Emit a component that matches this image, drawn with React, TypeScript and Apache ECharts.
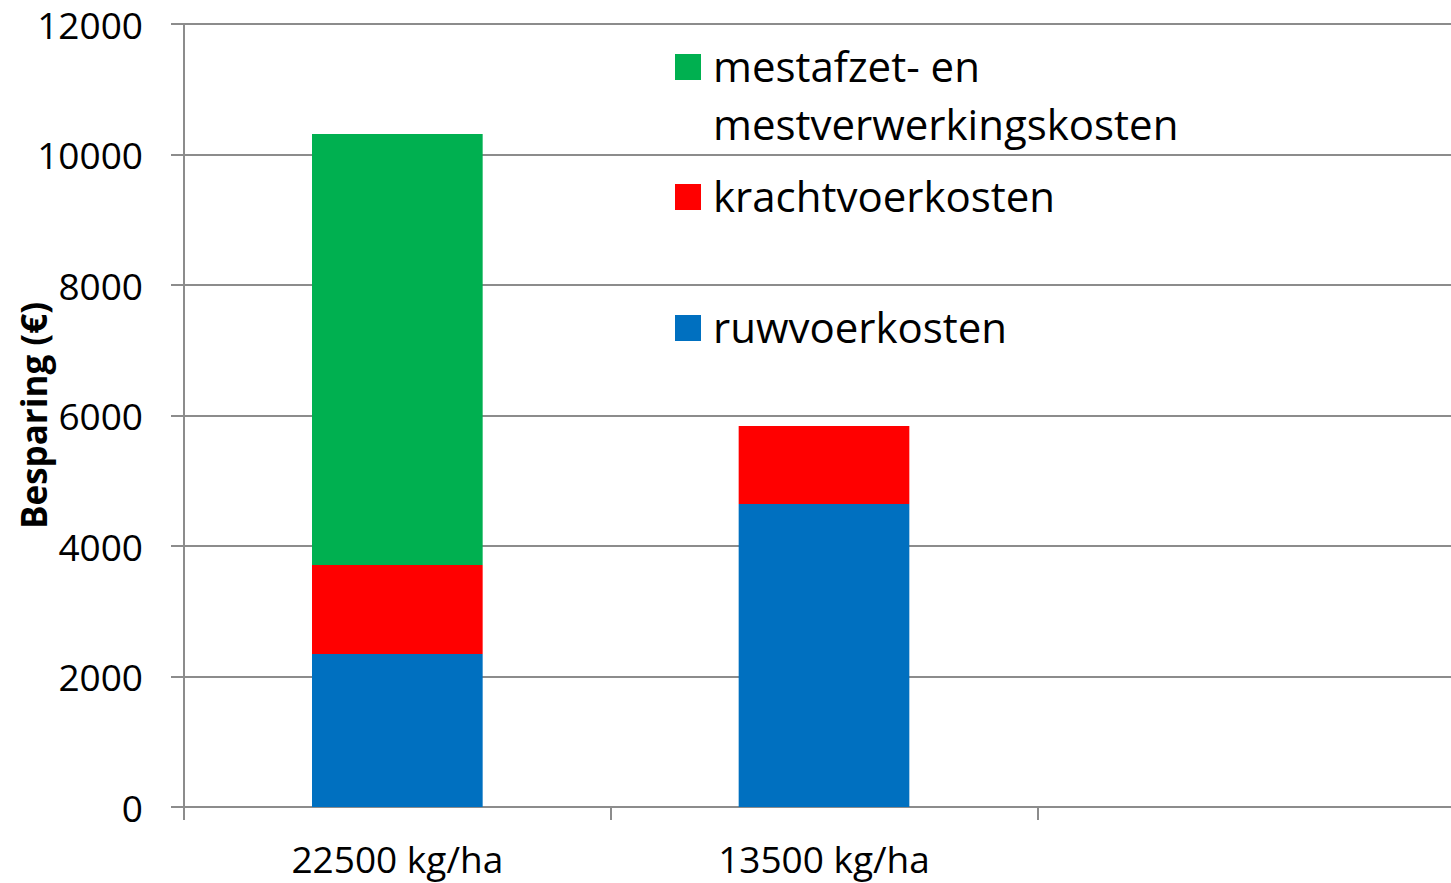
import React, { useEffect, useRef } from "react";
import * as echarts from "echarts";

const categories = ["22500 kg/ha", "13500 kg/ha", ""];
const ruwvoer = [2345, 4645, null];
const krachtvoer = [1365, 1195, null];
const mestafzet = [6605, 0, null];
const seriesNames = ["ruwvoerkosten", "krachtvoerkosten", "mestafzet- en\nmestverwerkingskosten"];
const colors = ["#0070C0", "#FF0000", "#00B050"];

const FONT = "'Open Sans'";

export default function App() {
  const ref = useRef<HTMLDivElement>(null);
  useEffect(() => {
    const chart = echarts.init(ref.current!, null, { renderer: "svg" });
    const data = [ruwvoer, krachtvoer, mestafzet];
    const legendY = [328, 197, 67];
    chart.setOption({
      animation: false,
      grid: { left: 184, right: -13, top: 24, bottom: 76, containLabel: false, outerBoundsMode: "none" },
      xAxis: {
        type: "category",
        data: categories,
        axisLine: { lineStyle: { color: "#8c8c8c", width: 2 } },
        axisTick: { show: true, length: 13, lineStyle: { color: "#8c8c8c", width: 2 } },
        axisLabel: { color: "#000", fontFamily: FONT, fontSize: 37, lineHeight: 37, margin: 33 },
        splitLine: { show: false },
      },
      yAxis: {
        type: "value",
        min: 0,
        max: 12000,
        interval: 2000,
        name: "Besparing (€)",
        nameLocation: "middle",
        nameGap: 132,
        nameMoveOverlap: false,
        nameTextStyle: { color: "#000", fontFamily: FONT, fontSize: 35, fontWeight: "bold", lineHeight: 38 },
        axisLine: { show: true, lineStyle: { color: "#8c8c8c", width: 2 } },
        axisTick: { show: true, length: 13, lineStyle: { color: "#8c8c8c", width: 2 } },
        axisLabel: { color: "#000", fontFamily: FONT, fontSize: 37, margin: 41, formatter: (v: number) => String(v) },
        splitLine: { show: true, lineStyle: { color: "#8c8c8c", width: 2 } },
      },
      series: data.map((d, i) => ({
        name: seriesNames[i],
        type: "bar",
        stack: "total",
        barWidth: "40%",
        data: d,
        itemStyle: { color: colors[i] },
      })),
      graphic: seriesNames.flatMap((n, i) => [
        {
          type: "rect",
          shape: { x: 675, y: legendY[i] - 13, width: 26, height: 26 },
          style: { fill: colors[i] },
        },
        {
          type: "text",
          x: 713,
          y: legendY[i] - 31,
          style: {
            text: n,
            fill: "#000",
            font: `42px ${FONT}`,
            lineHeight: 58,
            verticalAlign: "top",
          },
        },
      ]),
    });
    return () => chart.dispose();
  }, []);
  return (
    <div
      ref={ref}
      style={{ position: "fixed", left: 0, top: 0, width: 1451, height: 883, overflow: "hidden", background: "#fff" }}
    />
  );
}
